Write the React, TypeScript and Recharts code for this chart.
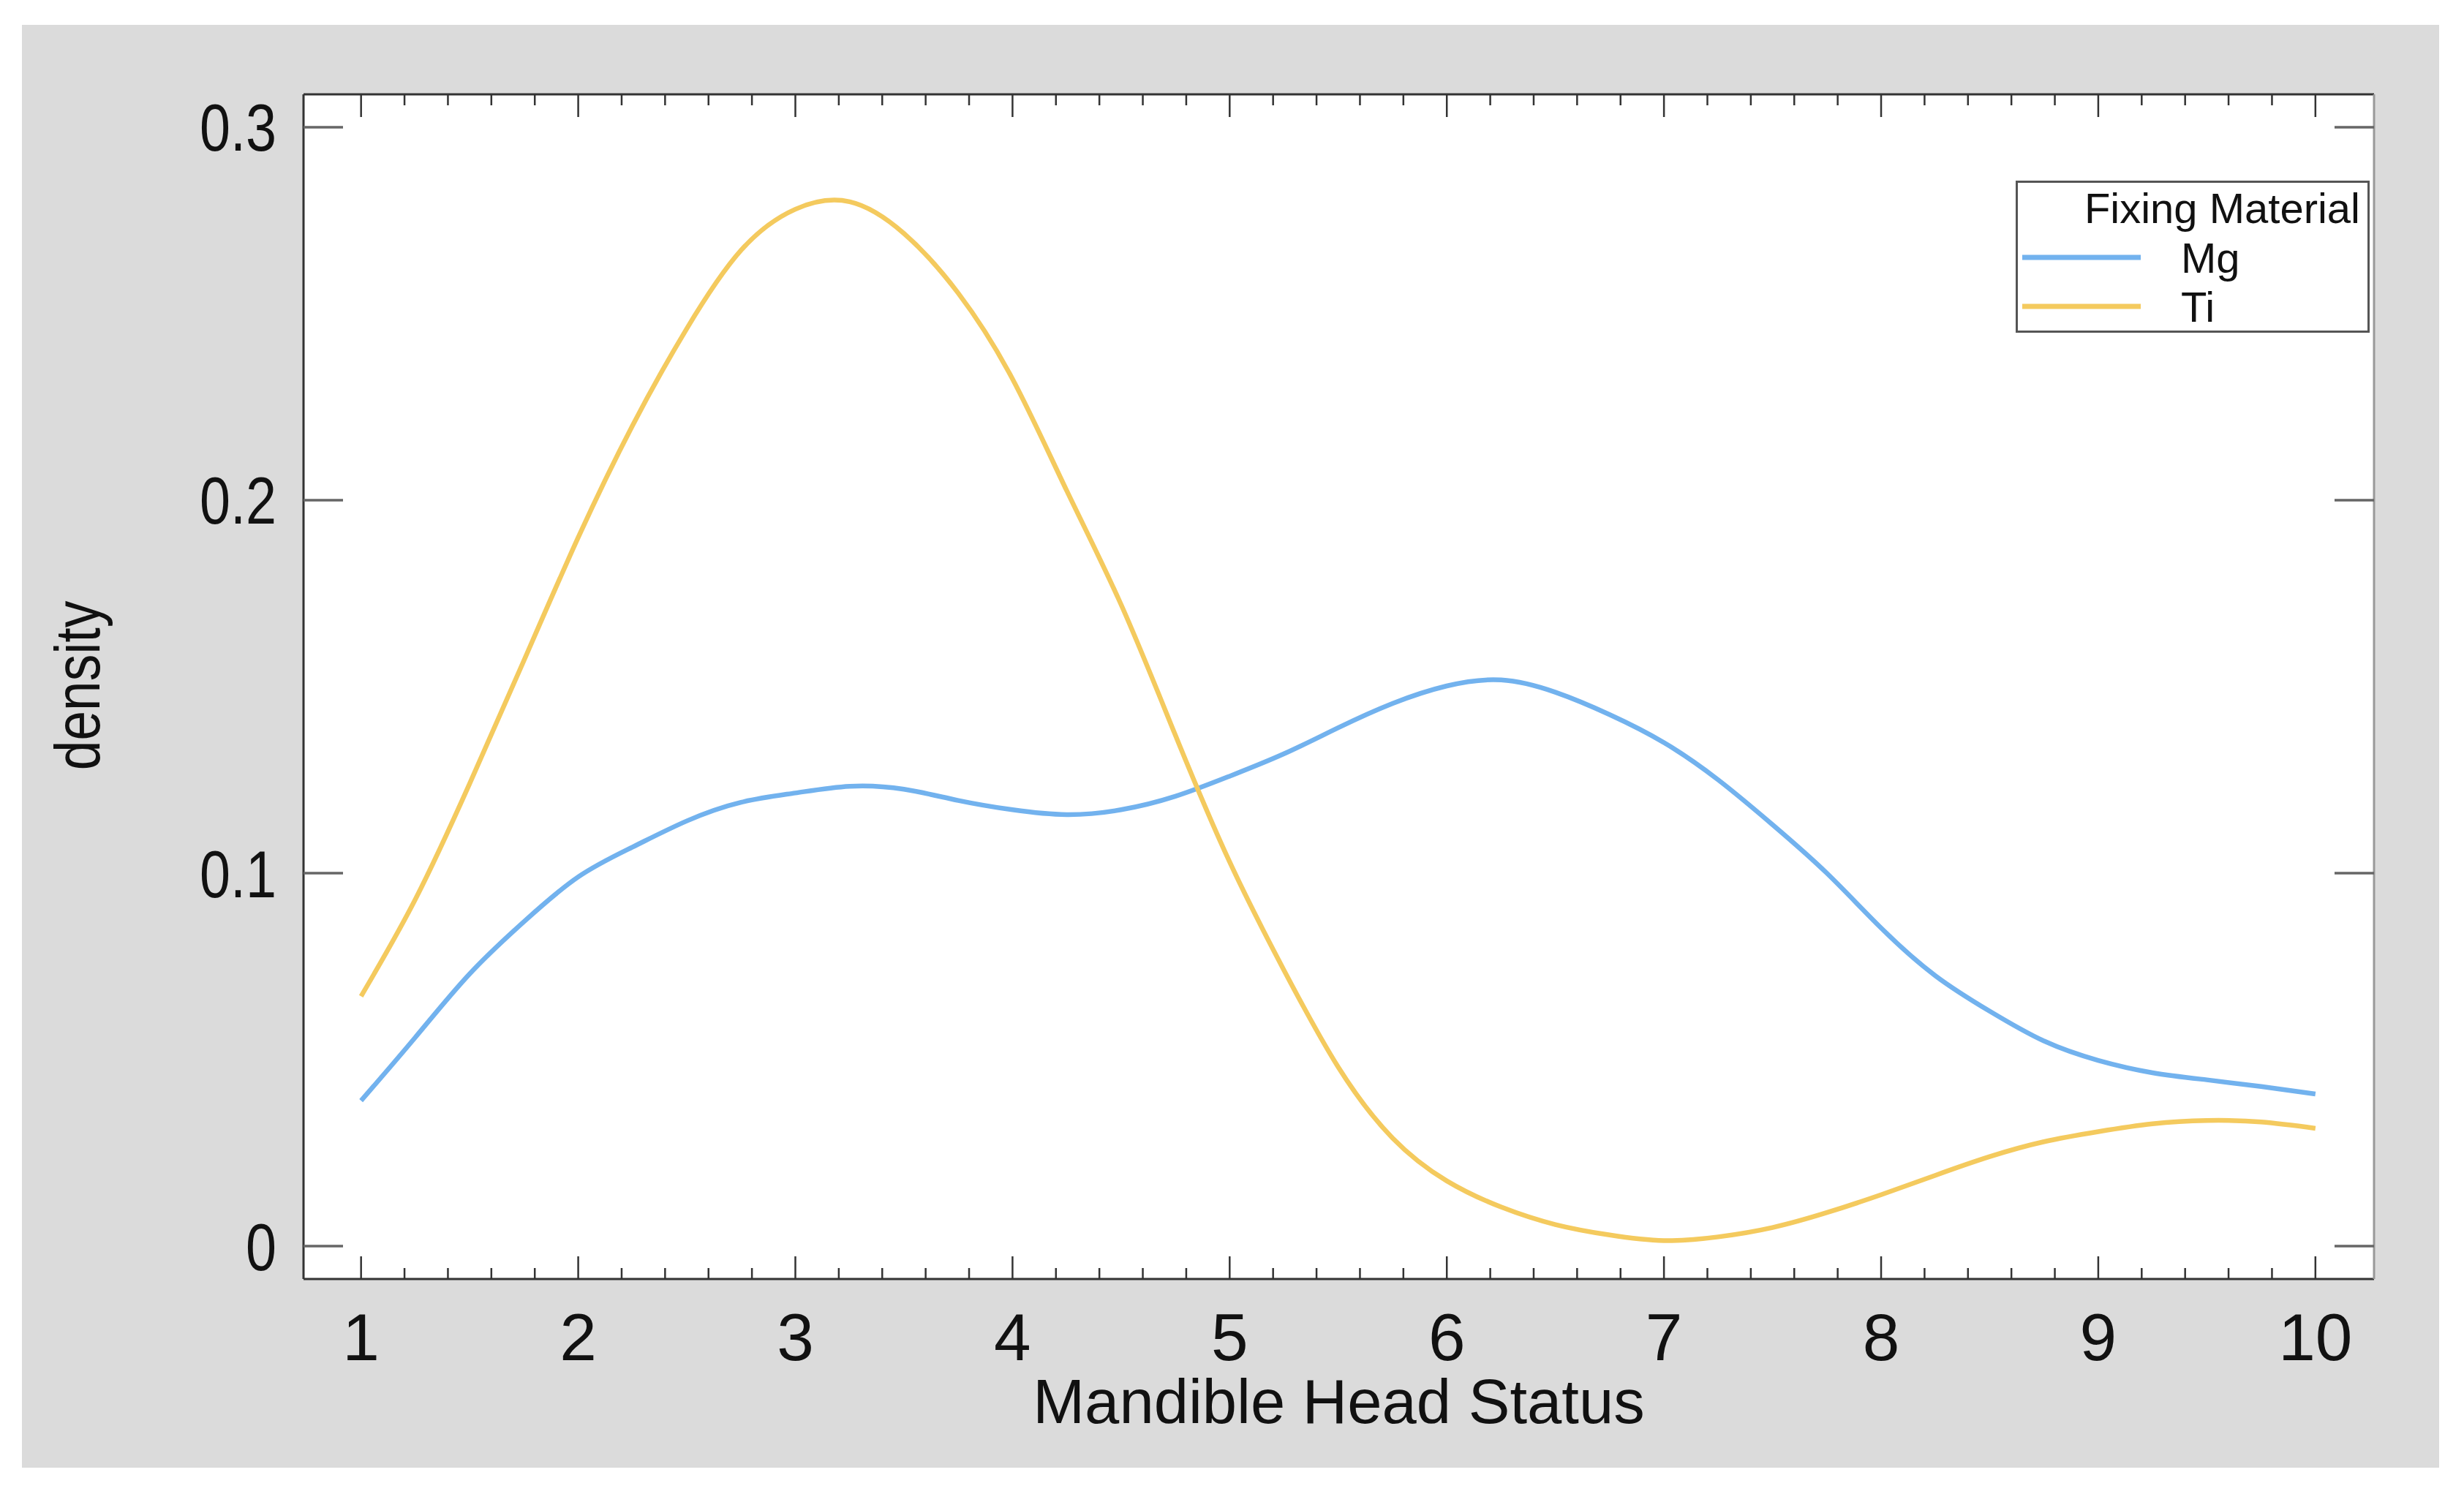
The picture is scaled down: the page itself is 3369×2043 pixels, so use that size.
import { CartesianGrid, Legend, Line, LineChart, XAxis, YAxis } from 'recharts';

// mandible head status grid (x) and kernel density per fixing material
const statusX = [
  1, 1.25, 1.5, 1.75, 2, 2.25, 2.5, 2.75, 3, 3.25, 3.5, 3.75, 4, 4.25, 4.5, 4.75, 5, 5.25, 5.5,
  5.75, 6, 6.25, 6.5, 6.75, 7, 7.25, 7.5, 7.75, 8, 8.25, 8.5, 8.75, 9, 9.25, 9.5, 9.75, 10,
];
const mgDensity = [
  0.039, 0.056, 0.073, 0.087, 0.099, 0.107, 0.114, 0.119, 0.1215, 0.1233, 0.1225, 0.1195, 0.117,
  0.1157, 0.117, 0.1206, 0.126, 0.132, 0.139, 0.1455, 0.1502, 0.1518, 0.1485, 0.1425, 0.135, 0.125,
  0.113, 0.1, 0.0853, 0.0725, 0.063, 0.055, 0.0498, 0.0465, 0.0446, 0.0428, 0.0408,
];
const tiDensity = [
  0.067, 0.093, 0.124, 0.157, 0.19, 0.22, 0.246, 0.267, 0.278, 0.28, 0.2715, 0.2555, 0.2325, 0.2025,
  0.172, 0.137, 0.103, 0.074, 0.048, 0.029, 0.0175, 0.0105, 0.0058, 0.003, 0.0015, 0.0025, 0.005,
  0.009, 0.0138, 0.019, 0.024, 0.028, 0.0307, 0.0328, 0.0337, 0.0333, 0.0316,
];
const xMajorTicks = [1, 2, 3, 4, 5, 6, 7, 8, 9, 10];
const xAllTicks = Array.from({ length: 46 }, (_, i) => Math.round((1 + i * 0.2) * 10) / 10);
const yTicks = [0, 0.1, 0.2, 0.3];

const data = statusX.map((x, i) => ({ x, Mg: mgDensity[i], Ti: tiDensity[i] }));

const FONT = "'Liberation Sans', Arial, sans-serif";
const X_DOMAIN: [number, number] = [0.735, 10.27];
const Y_DOMAIN: [number, number] = [-0.0088, 0.3088];

const BottomTick = ({ x, y, payload }: any) => {
  const major = xMajorTicks.includes(payload.value);
  return (
    <g>
      <line x1={x} x2={x} y1={y} y2={y - (major ? 31 : 15)} stroke="#333" strokeWidth={2.5} />
      {major && (
        <text x={x} y={y + 111} textAnchor="middle" fontSize={91} fontFamily={FONT} fill="#111">
          {payload.value}
        </text>
      )}
    </g>
  );
};

const TopTick = ({ x, y, payload }: any) => {
  const major = xMajorTicks.includes(payload.value);
  return <line x1={x} x2={x} y1={y} y2={y + (major ? 31 : 15)} stroke="#333" strokeWidth={2.5} />;
};

const LeftTick = ({ x, y, payload }: any) => (
  <g>
    <line x1={x} x2={x + 54} y1={y} y2={y} stroke="#666" strokeWidth={3.5} />
    <g transform={`translate(${x - 37},${y + 32.5}) scale(0.83,1)`}>
      <text x={0} y={0} textAnchor="end" fontSize={91} fontFamily={FONT} fill="#111">
        {payload.value}
      </text>
    </g>
  </g>
);

const RightTick = ({ x, y }: any) => (
  <line x1={x} x2={x - 54} y1={y} y2={y} stroke="#666" strokeWidth={3.5} />
);

const XTitle = ({ viewBox }: any) => (
  <text
    x={viewBox.x + viewBox.width / 2}
    y={viewBox.y + 197}
    textAnchor="middle"
    fontSize={85}
    fontFamily={FONT}
    fill="#111"
  >
    Mandible Head Status
  </text>
);

const YTitle = ({ viewBox }: any) => (
  <g transform={`translate(136,${viewBox.y + viewBox.height / 2 - 1.5}) rotate(-90) scale(0.83,1)`}>
    <text x={0} y={0} textAnchor="middle" fontSize={88} fontFamily={FONT} fill="#111">
      density
    </text>
  </g>
);

const LegendBox = ({ payload }: any) => (
  <svg width={484} height={208} style={{ display: 'block' }}>
    <rect x={1.5} y={1.5} width={481} height={205} fill="#fff" stroke="#555" strokeWidth={3} />
    <text x={471} y={58} textAnchor="end" fontSize={58} fontFamily={FONT} fill="#111">
      Fixing Material
    </text>
    {(payload || []).map((entry: any, i: number) => (
      <g key={entry.value}>
        <line x1={9} x2={171} y1={105 + i * 67} y2={105 + i * 67} stroke={entry.color} strokeWidth={7} />
        <text x={226} y={126 + i * 67} fontSize={58} fontFamily={FONT} fill="#111">
          {entry.value}
        </text>
      </g>
    ))}
  </svg>
);

const App = () => {
  return (
    <div style={{ position: 'absolute', left: 0, top: 0, width: 3369, height: 2043, background: '#fff' }}>
      <div style={{ position: 'absolute', left: 30, top: 34, width: 3305, height: 1973, background: '#dbdbdb' }} />
      <div style={{ position: 'absolute', left: 0, top: 0 }}>
        <LineChart
          width={3369}
          height={2043}
          data={data}
          margin={{ top: 119, right: 113, bottom: 194, left: 315 }}
        >
          <CartesianGrid fill="#fff" horizontal={false} vertical={false} xAxisId="b" yAxisId="l" />
          <XAxis
            xAxisId="b"
            dataKey="x"
            type="number"
            domain={X_DOMAIN}
            allowDataOverflow
            ticks={xAllTicks}
            interval={0}
            height={100}
            tickSize={0}
            tickMargin={0}
            tickLine={false}
            tick={<BottomTick />}
            axisLine={{ stroke: '#333', strokeWidth: 3 }}
            label={<XTitle />}
          />
          <XAxis
            xAxisId="t"
            dataKey="x"
            orientation="top"
            type="number"
            domain={X_DOMAIN}
            allowDataOverflow
            ticks={xAllTicks}
            interval={0}
            height={10}
            tickSize={0}
            tickMargin={0}
            tickLine={false}
            tick={<TopTick />}
            axisLine={{ stroke: '#333', strokeWidth: 3 }}
          />
          <YAxis
            yAxisId="l"
            type="number"
            domain={Y_DOMAIN}
            allowDataOverflow
            ticks={yTicks}
            interval={0}
            width={100}
            tickSize={0}
            tickMargin={0}
            tickLine={false}
            tick={<LeftTick />}
            axisLine={{ stroke: '#333', strokeWidth: 3 }}
            label={<YTitle />}
          />
          <YAxis
            yAxisId="r"
            orientation="right"
            type="number"
            domain={Y_DOMAIN}
            allowDataOverflow
            ticks={yTicks}
            interval={0}
            width={10}
            tickSize={0}
            tickMargin={0}
            tickLine={false}
            tick={<RightTick />}
            axisLine={{ stroke: '#999', strokeWidth: 3 }}
          />
          <Legend
            layout="vertical"
            align="center"
            verticalAlign="middle"
            content={<LegendBox />}
            wrapperStyle={{ left: 2756, top: 247, width: 484, height: 208 }}
          />
          <Line
            xAxisId="b"
            yAxisId="l"
            type="natural"
            dataKey="Mg"
            name="Mg"
            stroke="#72b2ee"
            strokeWidth={6.5}
            dot={false}
            activeDot={false}
            isAnimationActive={false}
          />
          <Line
            xAxisId="b"
            yAxisId="l"
            type="natural"
            dataKey="Ti"
            name="Ti"
            stroke="#f4ca5e"
            strokeWidth={6.5}
            dot={false}
            activeDot={false}
            isAnimationActive={false}
          />
        </LineChart>
      </div>
    </div>
  );
};

export default App;
